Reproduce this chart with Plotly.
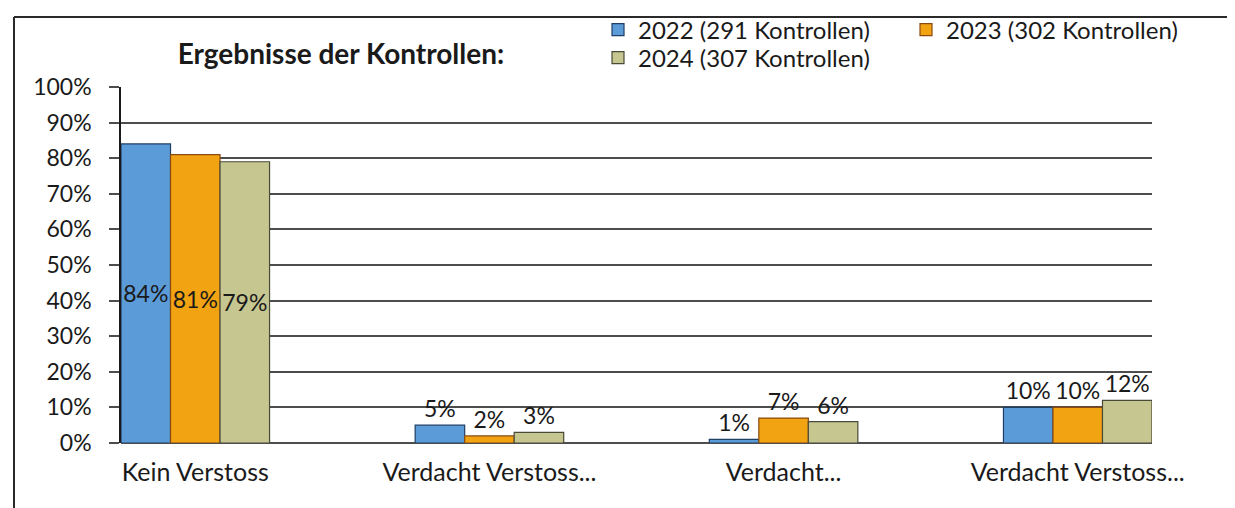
import plotly.graph_objects as go

categories = ["Kein Verstoss", "Verdacht Verstoss...", "Verdacht...", "Verdacht Verstoss..."]
series_names = ["2022 (291 Kontrollen)", "2023 (302 Kontrollen)", "2024 (307 Kontrollen)"]
values_2022 = [0.84, 0.05, 0.01, 0.10]
values_2023 = [0.81, 0.02, 0.07, 0.10]
values_2024 = [0.79, 0.03, 0.06, 0.12]
title_text = "Ergebnisse der Kontrollen:"

W, H = 1235, 508
L, R, T, B = 113, 1144, 79, 435
FONT = "Lato"
TXT = "#1a1a1a"

colors = ["#5b9bd8", "#f2a312", "#c6c690"]
edges = ["#1f3f66", "#8a4a10", "#4a4a38"]
legend_ids = ["legend", "legend2", "legend3"]


def px_x(p):
    return (p - L) / (R - L)


def px_y(p):
    return (B - p) / (B - T)


fig = go.Figure()
for name, vals, col, edge, lg in zip(series_names, [values_2022, values_2023, values_2024],
                                     colors, edges, legend_ids):
    positions = ["inside" if i == 0 else "outside" for i in range(len(vals))]
    fig.add_trace(go.Bar(
        x=list(range(len(categories))),
        y=vals,
        name=name,
        legend=lg,
        marker=dict(color=col, line=dict(color=edge, width=1.2)),
        text=[f"{round(v * 100)}%" for v in vals],
        textposition=positions,
        textangle=0,
        insidetextanchor="middle",
        textfont=dict(family=FONT, size=23, color=TXT),
        insidetextfont=dict(family=FONT, size=23, color=TXT),
        outsidetextfont=dict(family=FONT, size=23, color=TXT),
        cliponaxis=False,
        constraintext="none",
    ))

legend_common = dict(orientation="h", xanchor="left", yanchor="middle",
                     font=dict(family=FONT, size=24, color=TXT),
                     bgcolor="rgba(0,0,0,0)", borderwidth=0, itemwidth=30)

fig.update_layout(
    width=W, height=H,
    margin=dict(l=L, r=W - R, t=T, b=H - B, autoexpand=False),
    paper_bgcolor="white", plot_bgcolor="white",
    barmode="group", bargap=0.495, bargroupgap=0,
    font=dict(family=FONT, size=23, color=TXT),
    title=dict(text=f"<b>{title_text}</b>", x=333 / W, xanchor="center",
               y=1 - 46 / H, yanchor="middle", font=dict(family=FONT, size=28, color=TXT)),
    legend=dict(x=px_x(590), y=px_y(22), **legend_common),
    legend2=dict(x=px_x(898), y=px_y(22), **legend_common),
    legend3=dict(x=px_x(590), y=px_y(50), **legend_common),
    showlegend=True,
)

fig.update_xaxes(
    tickmode="array",
    tickvals=list(range(len(categories))),
    ticktext=categories,
    range=[-0.5 * (1 - 0.495), len(categories) - 1 + 0.5 * (1 - 0.495)],
    showline=False, showgrid=False, zeroline=False,
    ticks="", ticklabelstandoff=12,
    tickfont=dict(family=FONT, size=25, color=TXT),
)
fig.update_yaxes(
    range=[0, 1], dtick=0.1, tickformat=".0%",
    showgrid=True, gridcolor="#4d4d4d", gridwidth=1.5,
    zeroline=True, zerolinecolor="#4d4d4d", zerolinewidth=1.5,
    showline=True, linecolor="#1a1a1a", linewidth=1.5,
    ticks="outside", ticklen=10, tickcolor="#4d4d4d", tickwidth=1.5,
    ticklabelstandoff=13,
    tickfont=dict(family=FONT, size=23, color=TXT),
)

# outer chart frame (left and top edges visible in the reference)
fig.add_shape(type="line", xref="paper", yref="paper",
              x0=px_x(6), x1=px_x(W + 5), y0=px_y(9), y1=px_y(9),
              line=dict(color="#2a2a2a", width=2))
fig.add_shape(type="line", xref="paper", yref="paper",
              x0=px_x(6), x1=px_x(6), y0=px_y(9), y1=px_y(H + 5),
              line=dict(color="#2a2a2a", width=2))

fig.write_html("out.html")
